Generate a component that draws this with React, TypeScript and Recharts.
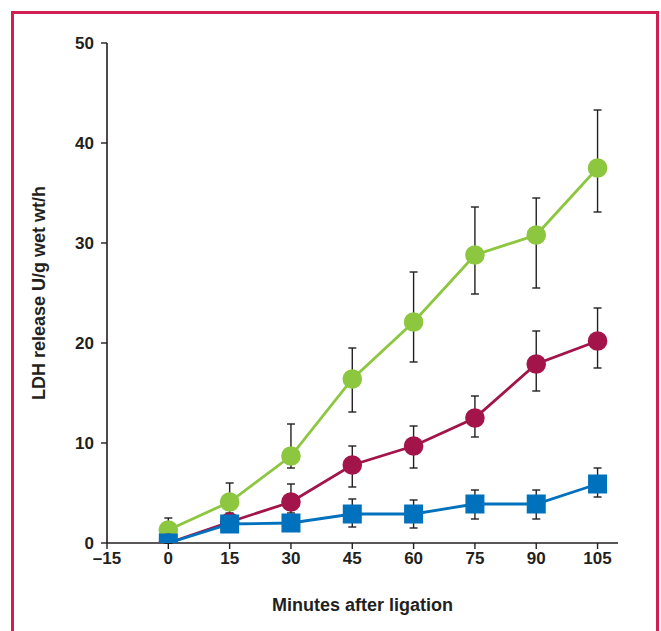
import React from "react";
import { LineChart, Line, XAxis, YAxis, ErrorBar, Label } from "recharts";

const minutes = [0, 15, 30, 45, 60, 75, 90, 105];
const greenValues = [1.3, 4.1, 8.7, 16.4, 22.1, 28.8, 30.8, 37.5];
const greenErrLow = [1.2, 1.1, 1.2, 3.3, 4.0, 3.9, 5.3, 4.4];
const greenErrHigh = [1.2, 1.9, 3.2, 3.1, 5.0, 4.8, 3.7, 5.8];
const crimsonValues = [0, 2.1, 4.1, 7.8, 9.7, 12.5, 17.9, 20.2];
const crimsonErrLow = [0, 0.5, 1.1, 2.2, 2.2, 1.9, 2.7, 2.7];
const crimsonErrHigh = [0.3, 0.5, 1.8, 1.9, 2.0, 2.2, 3.3, 3.3];
const blueValues = [0, 1.9, 2.0, 2.9, 2.9, 3.9, 3.9, 5.9];
const blueErrLow = [0, 0.6, 0.6, 1.3, 1.4, 1.5, 1.5, 1.3];
const blueErrHigh = [0.3, 0.6, 0.6, 1.5, 1.4, 1.4, 1.4, 1.6];

const xTicks = [-15, 0, 15, 30, 45, 60, 75, 90, 105];
const yTicks = [0, 10, 20, 30, 40, 50];
const xLabel = "Minutes after ligation";
const yLabel = "LDH release U/g wet wt/h";

const GREEN = "#8dc63f";
const CRIMSON = "#a3154a";
const BLUE = "#0071bc";
const INK = "#231f20";
const FONT = "'Liberation Sans', Arial, Helvetica, sans-serif";

const data = minutes.map((m, i) => ({
  minute: m,
  green: greenValues[i],
  greenErr: [greenErrLow[i], greenErrHigh[i]],
  crimson: crimsonValues[i],
  crimsonErr: [crimsonErrLow[i], crimsonErrHigh[i]],
  blue: blueValues[i],
  blueErr: [blueErrLow[i], blueErrHigh[i]],
}));

const circleDot = (color: string) => (props: any) => {
  const { cx, cy, index } = props;
  if (cx == null || cy == null) return <g key={`c-${color}-${index}`} />;
  return <circle key={`c-${color}-${index}`} cx={cx} cy={cy} r={9.8} fill={color} />;
};

const squareDot = (color: string) => (props: any) => {
  const { cx, cy, index } = props;
  if (cx == null || cy == null) return <g key={`s-${index}`} />;
  const s = 19;
  return <rect key={`s-${index}`} x={cx - s / 2} y={cy - s / 2} width={s} height={s} fill={color} />;
};

const tickFmt = (v: number) => (v < 0 ? "\u2013" + Math.abs(v) : String(v));

const tickStyle = { fill: INK, fontSize: 17, fontWeight: 700, fontFamily: FONT };

export default function App() {
  return (
    <div style={{ position: "absolute", left: 0, top: 0, width: 661, height: 631, background: "#fff", overflow: "hidden" }}>
      <div
        style={{
          position: "absolute",
          left: 11,
          top: 11,
          width: 648,
          height: 700,
          border: "3px solid #d11f52",
          boxSizing: "border-box",
        }}
      />
      <div style={{ position: "absolute", left: 0, top: 0 }}>
        <LineChart width={661} height={631} data={data} margin={{ top: 43, right: 43, bottom: 28, left: 47 }}>
          <XAxis
            dataKey="minute"
            type="number"
            domain={[-15, 110]}
            allowDataOverflow
            ticks={xTicks}
            tickFormatter={tickFmt}
            interval={0}
            height={60}
            tickSize={6}
            tickMargin={3}
            tick={tickStyle}
            axisLine={{ stroke: INK, strokeWidth: 1.6 }}
            tickLine={{ stroke: INK, strokeWidth: 1.4 }}
          >
            <Label
              content={(props: any) => {
                const vb = props.viewBox;
                return (
                  <text
                    x={vb.x + vb.width / 2}
                    y={vb.y + 68}
                    textAnchor="middle"
                    fill={INK}
                    fontSize={18}
                    fontWeight={700}
                    fontFamily={FONT}
                  >
                    {xLabel}
                  </text>
                );
              }}
            />
          </XAxis>
          <YAxis
            type="number"
            domain={[0, 50]}
            allowDataOverflow
            ticks={yTicks}
            interval={0}
            width={60}
            tickSize={6}
            tickMargin={7}
            tick={tickStyle}
            axisLine={{ stroke: INK, strokeWidth: 1.6 }}
            tickLine={{ stroke: INK, strokeWidth: 1.4 }}
          >
            <Label
              content={(props: any) => {
                const vb = props.viewBox;
                const cx = vb.x - 8;
                const cy = vb.y + vb.height / 2;
                return (
                  <text
                    x={cx}
                    y={cy}
                    dy="0.35em"
                    textAnchor="middle"
                    transform={`rotate(-90 ${cx} ${cy})`}
                    fill={INK}
                    fontSize={18}
                    fontWeight={700}
                    fontFamily={FONT}
                  >
                    {yLabel}
                  </text>
                );
              }}
            />
          </YAxis>
          <Line
            dataKey="green"
            stroke={GREEN}
            strokeWidth={2.8}
            dot={circleDot(GREEN)}
            activeDot={false}
            isAnimationActive={false}
          >
            <ErrorBar dataKey="greenErr" direction="y" width={4} stroke={INK} strokeWidth={1.4} isAnimationActive={false} />
          </Line>
          <Line
            dataKey="crimson"
            stroke={CRIMSON}
            strokeWidth={2.8}
            dot={circleDot(CRIMSON)}
            activeDot={false}
            isAnimationActive={false}
          >
            <ErrorBar dataKey="crimsonErr" direction="y" width={4} stroke={INK} strokeWidth={1.4} isAnimationActive={false} />
          </Line>
          <Line
            dataKey="blue"
            stroke={BLUE}
            strokeWidth={2.8}
            dot={squareDot(BLUE)}
            activeDot={false}
            isAnimationActive={false}
          >
            <ErrorBar dataKey="blueErr" direction="y" width={4} stroke={INK} strokeWidth={1.4} isAnimationActive={false} />
          </Line>
        </LineChart>
      </div>
    </div>
  );
}
